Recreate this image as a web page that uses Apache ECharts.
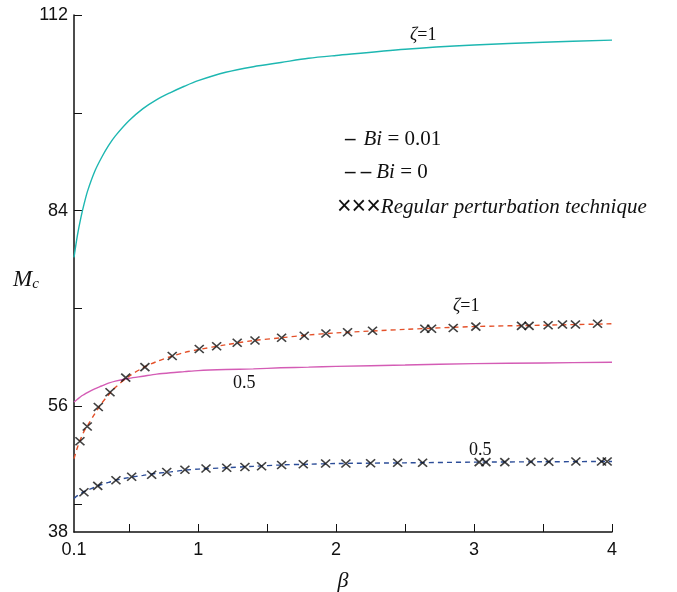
<!DOCTYPE html>
<html>
<head>
<meta charset="utf-8">
<script src="https://cdn.jsdelivr.net/npm/echarts@6/dist/echarts.min.js"></script>
<style>
  html, body { margin: 0; padding: 0; background: #fff; }
  #chart { width: 677px; height: 592px; }
</style>
</head>
<body>
<div id="chart"></div>
<script>
// beta sample points for the smooth curves
const betaCurve = [0.1, 0.125, 0.15, 0.175, 0.2, 0.25, 0.3, 0.35, 0.4, 0.5, 0.6, 0.7, 0.8, 0.9, 1.0, 1.2, 1.4, 1.6, 1.8, 2.0, 2.5, 3.0, 3.5, 4.0]
// Bi = 0.01 (solid)
const zeta1Bi001 = [77.3, 80.5, 83.0, 85.1, 86.9, 89.6, 91.6, 93.3, 94.7, 96.9, 98.6, 99.9, 100.9, 101.8, 102.6, 103.8, 104.6, 105.2, 105.8, 106.2, 107.1, 107.7, 108.1, 108.4]
const zeta05Bi001 = [56.6, 57.0, 57.4, 57.7, 58.0, 58.5, 58.9, 59.3, 59.6, 60.0, 60.3, 60.6, 60.8, 60.95, 61.1, 61.25, 61.35, 61.5, 61.6, 61.7, 61.9, 62.1, 62.2, 62.3]
// Bi = 0 (dashed)
const zeta1Bi0 = [48.5, 50.1, 51.4, 52.5, 53.3, 54.9, 56.4, 57.6, 58.7, 60.3, 61.5, 62.4, 63.1, 63.7, 64.1, 64.8, 65.4, 65.8, 66.2, 66.5, 67.0, 67.4, 67.6, 67.8]
const zeta05Bi0 = [42.8, 43.2, 43.5, 43.8, 44.0, 44.4, 44.8, 45.1, 45.4, 45.8, 46.1, 46.4, 46.6, 46.85, 47.0, 47.2, 47.4, 47.6, 47.7, 47.8, 47.9, 48.0, 48.05, 48.1]

// regular perturbation technique points
const pertBeta1 = [0.143, 0.196, 0.276, 0.361, 0.475, 0.614, 0.812, 1.008, 1.134, 1.283, 1.412, 1.605, 1.769, 1.926, 2.083, 2.264, 2.643, 2.692, 2.849, 3.013, 3.344, 3.399, 3.537, 3.641, 3.735, 3.895]
const pertZeta1 = [51.0, 53.1, 55.9, 58.0, 60.1, 61.6, 63.2, 64.2, 64.6, 65.1, 65.4, 65.8, 66.1, 66.4, 66.6, 66.8, 67.1, 67.1, 67.2, 67.4, 67.5, 67.5, 67.6, 67.7, 67.7, 67.8]
const pertBeta05 = [0.172, 0.272, 0.404, 0.518, 0.663, 0.772, 0.904, 1.057, 1.207, 1.339, 1.46, 1.605, 1.762, 1.924, 2.071, 2.25, 2.446, 2.627, 3.037, 3.086, 3.223, 3.412, 3.542, 3.738, 3.924, 3.965]
const pertZeta05 = [43.7, 44.6, 45.4, 45.9, 46.2, 46.6, 46.9, 47.1, 47.2, 47.3, 47.4, 47.6, 47.7, 47.8, 47.8, 47.85, 47.9, 47.9, 48.0, 48.0, 48.0, 48.05, 48.05, 48.1, 48.1, 48.1]

// ticks
const xTicks = [0.5, 1, 1.5, 2, 2.5, 3, 3.5, 4]
const xLabels = [0.1, 1, 2, 3, 4]
const yTicks = [42, 56, 70, 84, 98, 112]
const yLabels = [38, 56, 84, 112]

const zip = (xs, ys) => xs.map((x, i) => [x, ys[i]])
const serif = '"Liberation Serif", "DejaVu Serif", serif'
const sans = '"Liberation Sans", Arial, sans-serif'
const crossSymbol = 'path://M0,0L10,9M10,0L0,9'

const chart = echarts.init(document.getElementById('chart'))

function curve(name, data, color, dashed) {
    return {
        name,
        type: 'line',
        data,
        smooth: 0.3,
        symbol: 'none',
        lineStyle: {
            color,
            width: 1.4,
            type: dashed ? [5, 4] : 'solid',
        },
        z: 2,
    }
}

function crosses(name, data) {
    return {
        name,
        type: 'scatter',
        data,
        symbol: crossSymbol,
        symbolSize: [9, 8],
        itemStyle: {
            color: 'transparent',
            borderColor: '#111',
            borderWidth: 1.6,
        },
        z: 3,
    }
}

function label(x, y, text, size, dashGap) {
    return {
        type: 'text',
        left: x,
        top: y,
        style: {
            text,
            fontFamily: serif,
            fontSize: size,
            fill: '#111',
            rich: {
                i: { fontFamily: serif, fontStyle: 'italic', fontSize: size, fill: '#111' },
                n: { fontFamily: serif, fontSize: size, fill: '#111' },
                d: { fontFamily: serif, fontSize: size, fill: '#111', fontWeight: 'bold', padding: [0, dashGap || 0, 0, 0] },
                x: { fontFamily: sans, fontSize: size + 4, fill: '#111' },
                s: { fontFamily: serif, fontStyle: 'italic', fontSize: 15, fill: '#111', padding: [10, 0, 0, 0] },
            },
        },
    }
}

chart.setOption({
    animation: false,
    grid: {
        left: 74,
        top: 15,
        right: 65,
        bottom: 60,
        outerBoundsMode: 'none',
    },
    xAxis: {
        type: 'value',
        min: 0.1,
        max: 4,
        name: 'β',
        nameLocation: 'middle',
        nameGap: 38,
        nameTextStyle: {
            fontFamily: serif,
            fontStyle: 'italic',
            fontSize: 22,
            color: '#111',
        },
        axisLine: { lineStyle: { color: '#111', width: 1.5 } },
        axisTick: {
            inside: true,
            length: 8,
            customValues: xTicks,
            lineStyle: { color: '#111', width: 1 },
        },
        axisLabel: {
            customValues: xLabels,
            fontFamily: sans,
            fontSize: 18,
            color: '#111',
            margin: 9,
        },
        splitLine: { show: false },
    },
    yAxis: {
        type: 'value',
        min: 38,
        max: 112,
        axisLine: { show: true, lineStyle: { color: '#111', width: 1.5 } },
        axisTick: {
            show: true,
            inside: true,
            length: 8,
            customValues: yTicks,
            lineStyle: { color: '#111', width: 1 },
        },
        axisLabel: {
            customValues: yLabels,
            fontFamily: sans,
            fontSize: 18,
            color: '#111',
            margin: 6,
        },
        splitLine: { show: false },
    },
    series: [
        curve('zeta1 Bi0.01', zip(betaCurve, zeta1Bi001), '#1db7b1', false),
        curve('zeta0.5 Bi0.01', zip(betaCurve, zeta05Bi001), '#d45cb5', false),
        curve('zeta1 Bi0', zip(betaCurve, zeta1Bi0), '#e4512a', true),
        curve('zeta0.5 Bi0', zip(betaCurve, zeta05Bi0), '#2c4d98', true),
        crosses('pert zeta1', zip(pertBeta1, pertZeta1)),
        crosses('pert zeta0.5', zip(pertBeta05, pertZeta05)),
    ],
    graphic: [
        label(13, 268, '{i|M}{s|c}', 23),
        label(410, 26, '{i|ζ}{n|=1}', 18),
        label(453, 297, '{i|ζ}{n|=1}', 18),
        label(233, 374, '0.5', 18),
        label(469, 441, '0.5', 18),
        label(345, 129, '{d|–}{i|Bi}{n| = 0.01}', 21, 8),
        label(345, 162, '{d|– –}{i|Bi}{n| = 0}', 21, 5),
        label(337, 195, '{x|×××}{i|Regular perturbation technique}', 21),
    ],
})
</script>
</body>
</html>
